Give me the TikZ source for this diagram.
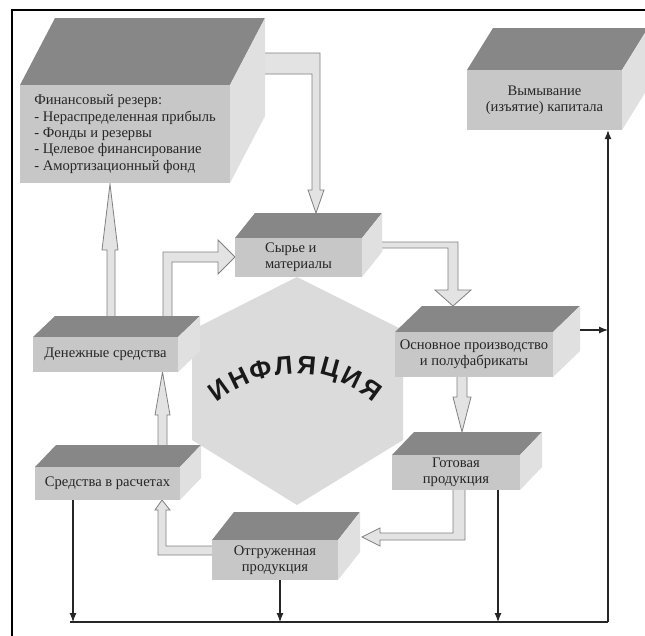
\documentclass[tikz,border=0pt]{standalone}
\usepackage{fontspec}
\setmainfont{Liberation Serif}
\newfontfamily\inffont{Liberation Sans}
\usetikzlibrary{arrows.meta,calc}
\definecolor{frontc}{gray}{0.78}
\definecolor{topc}{gray}{0.53}
\definecolor{sidec}{gray}{0.88}
\definecolor{hexc}{gray}{0.86}
\definecolor{arrfill}{gray}{0.89}
\definecolor{arrline}{gray}{0.50}
\tikzset{
  frontbox/.style={fill=frontc, draw=none, inner sep=0pt, text=black!85,
    font=\fontsize{14.6}{16.4}\selectfont},
  blk/.style={fill=arrfill, draw=arrline, line width=0.8pt, line join=miter},
  thinline/.style={draw=black!85, line width=1.1pt},
  thinarr/.style={thinline, -{Latex[length=9pt,width=7pt]}},
  infletter/.style={inner sep=0pt, font=\inffont\bfseries\fontsize{26}{26}\selectfont, text=black!90},
}
\newcommand\mycub[9]{%
  \fill[topc] (#2,#3) -- ++(#6,#7) -- ++({#4-#2},0) -- (#4,#3) -- cycle;
  \fill[sidec] (#4,#3) -- ++(#6,#7) -- ++(0,{#5-#3}) -- (#4,#5) -- cycle;
  \node[frontbox, #9, minimum width={#4-#2}, minimum height={#5-#3}] (#1)
    at ({(#2+#4)/2},{(#3+#5)/2}) {#8};
}
\begin{document}
\begin{tikzpicture}[x=1pt,y=-1pt]
\useasboundingbox (0,0) rectangle (645,635);
\fill[white] (0,0) rectangle (645,635);
% frame
\draw[line width=2pt] (12,640) -- (12,10) -- (650,10);
% hexagon
\fill[hexc] (297,277) -- (403,330) -- (403,440) -- (297,505) -- (192,440) -- (192,330) -- cycle;
% inflation lettering on an arc
\foreach \l [count=\i from 0] in {И,Н,Ф,Л,Я,Ц,И,Я}{
  \pgfmathsetmacro\ang{-36+10.3*\i}
  \node[infletter, rotate=-\ang] (inf\i) at ({295+130*sin(\ang)},{495-130*cos(\ang)}) {\l};
}
% block arrows
\filldraw[blk] (255,53) -- (320,53) -- (320,190) -- (324,190) -- (316,213) -- (308,190) -- (312,190) -- (312,74) -- (255,74) -- cycle;
\filldraw[blk] (107,330) -- (107,250) -- (102,250) -- (110,184) -- (118,250) -- (115,250) -- (115,330) -- cycle;
\filldraw[blk] (163,330) -- (163,252) -- (218,252) -- (218,240) -- (235,257) -- (218,274) -- (218,262) -- (172,262) -- (172,330) -- cycle;
\filldraw[blk] (158,460) -- (158,415) -- (155,415) -- (162.5,372) -- (170,415) -- (167,415) -- (167,460) -- cycle;
\filldraw[blk] (370,242) -- (458,242) -- (458,290) -- (471,290) -- (453,306) -- (435,290) -- (448,290) -- (448,248) -- (370,248) -- cycle;
\filldraw[blk] (457,370) -- (457,397) -- (453,397) -- (462,432) -- (471,397) -- (467,397) -- (467,370) -- cycle;
\filldraw[blk] (453,485) -- (453,533) -- (380,533) -- (380,528) -- (362,537) -- (380,546) -- (380,540) -- (465,540) -- (465,485) -- cycle;
\filldraw[blk] (220,546) -- (166,546) -- (166,510) -- (170,510) -- (162,500) -- (155,510) -- (158,510) -- (158,555) -- (220,555) -- cycle;
% boxes
\mycub{fin}{20}{85}{230}{183}{35}{-67}{Финансовый резерв:\\- Нераспределенная прибыль\\- Фонды и резервы\\- Целевое финансирование\\- Амортизационный фонд}{align=left}
\mycub{vym}{467}{70}{622}{130}{26}{-42}{Вымывание\\(изъятие) капитала}{align=center}
\mycub{syr}{235}{238}{362}{277}{20}{-25}{Сырье и\\материалы}{align=left}
\mycub{den}{33}{337}{178}{372}{22}{-21}{Денежные средства}{align=center}
\mycub{osn}{395}{332}{553}{377}{27}{-26}{Основное производство\\и полуфабрикаты}{align=center}
\mycub{got}{392}{455}{520}{490}{22}{-23}{Готовая\\продукция}{align=center}
\mycub{sred}{35}{467}{180}{500}{21}{-22}{Средства в расчетах}{align=center}
\mycub{otg}{212}{540}{338}{580}{22}{-28}{Отгруженная\\продукция}{align=center}
% thin connectors
\coordinate (bl) at (70,622);
\coordinate (br) at (608,622);
\coordinate (b1) at (73,622);
\coordinate (b2) at (280,622);
\coordinate (b3) at (498,622);
\coordinate (osnside) at (580,330);
\draw[thinline] (bl) -- (br);
\draw[thinarr] (br) -- (vym.south -| br);
\draw[thinarr] (sred.south -| b1) -- (b1);
\draw[thinarr] (otg.south -| b2) -- (b2);
\draw[thinarr] (got.south -| b3) -- (b3);
\draw[thinarr] (osnside) -- (osnside -| br);
\end{tikzpicture}
\end{document}
